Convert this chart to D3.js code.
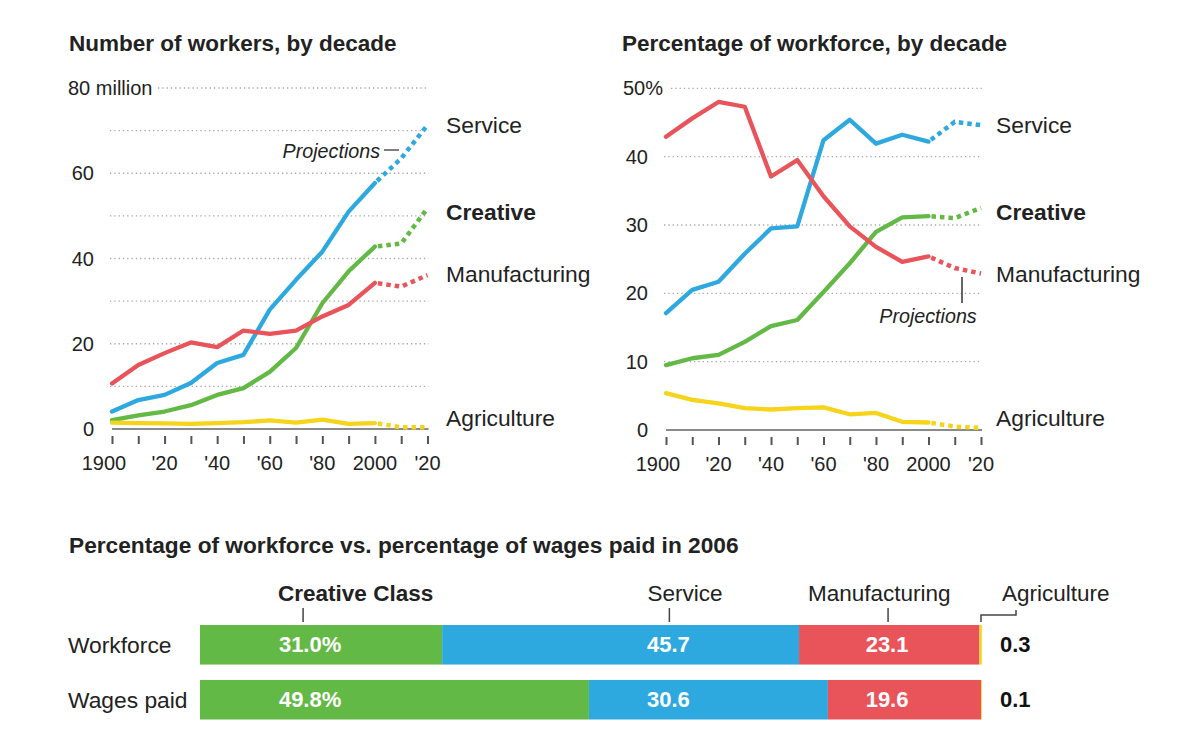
<!DOCTYPE html>
<html>
<head>
<meta charset="utf-8">
<script src="https://cdn.jsdelivr.net/npm/d3@7"></script>
<style>
  html, body { margin: 0; padding: 0; background: #fff; }
  svg { display: block; font-family: "Liberation Sans", Arial, Helvetica, sans-serif; }
</style>
</head>
<body>
<svg id="chart" width="1197" height="750"></svg>
<script>
// ---------------- DATA ----------------
const decades = [1900, 1910, 1920, 1930, 1940, 1950, 1960, 1970, 1980, 1990, 2000, 2010, 2020];
const projectionStart = 2000;
const seriesNames = ["Service", "Creative", "Manufacturing", "Agriculture"];

// Number of workers (millions)
const serviceWorkers       = [4.1, 6.8, 8.0, 10.8, 15.5, 17.4, 28.0, 35.0, 41.6, 51.0, 57.7, 63.5, 71.3];
const creativeWorkers      = [2.1, 3.2, 4.1, 5.6, 8.0, 9.6, 13.4, 19.0, 29.5, 37.0, 42.8, 43.5, 51.8];
const manufacturingWorkers = [10.7, 15.0, 17.8, 20.3, 19.2, 23.1, 22.3, 23.1, 26.4, 29.1, 34.3, 33.4, 36.1];
const agricultureWorkers   = [1.5, 1.4, 1.3, 1.2, 1.4, 1.6, 2.0, 1.5, 2.2, 1.2, 1.4, 0.4, 0.4];

// Percentage of workforce
const servicePct       = [17.1, 20.5, 21.7, 25.8, 29.5, 29.8, 42.4, 45.4, 41.9, 43.2, 42.2, 45.1, 44.6];
const creativePct      = [9.5, 10.5, 11.0, 12.9, 15.2, 16.1, 20.2, 24.4, 29.0, 31.1, 31.3, 31.0, 32.5];
const manufacturingPct = [42.9, 45.6, 48.0, 47.3, 37.1, 39.5, 34.2, 29.8, 26.8, 24.6, 25.4, 23.7, 22.9];
const agriculturePct   = [5.4, 4.4, 3.9, 3.2, 3.0, 3.2, 3.3, 2.3, 2.5, 1.2, 1.1, 0.5, 0.3];

const workerTicks = [0, 20, 40, 60, 80];
const pctTicks = [0, 10, 20, 30, 40, 50];
const xTickLabels = ["1900", "'20", "'40", "'60", "'80", "2000", "'20"];
const xTickLabelYears = [1900, 1920, 1940, 1960, 1980, 2000, 2020];

// Bars: 2006
const barCategories = ["Creative Class", "Service", "Manufacturing", "Agriculture"];
const barRows = ["Workforce", "Wages paid"];
const workforceShares = [31.0, 45.7, 23.1, 0.3];
const wagesShares = [49.8, 30.6, 19.6, 0.1];

// ---------------- STYLE ----------------
const colors = { "Service": "#2ea9df", "Creative": "#63b946", "Manufacturing": "#e9545b", "Agriculture": "#f5d41b" };
const barColors = ["#63b946", "#2ea9df", "#e9545b", "#f5d41b"];
const textColor = "#222";

const svg = d3.select("#chart");

function lineChart(opts) {
  const g = svg.append("g");
  const x = d3.scaleLinear().domain([1900, 2020]).range(opts.xRange);
  const y = d3.scaleLinear().domain(opts.yDomain).range(opts.yRange);

  // title
  g.append("text").attr("x", opts.titleX).attr("y", 51)
    .attr("font-size", 22.5).attr("font-weight", "bold").attr("fill", textColor)
    .text(opts.title);

  // gridlines
  const gridVals = d3.range(opts.gridStep, opts.yDomain[1] + 0.001, opts.gridStep);
  g.selectAll(".grid").data(gridVals).join("line")
    .attr("x1", d => d === opts.yDomain[1] ? opts.topGridStart : opts.xRange[0] - 2)
    .attr("x2", opts.xRange[1] + 1)
    .attr("y1", d => y(d)).attr("y2", d => y(d))
    .attr("stroke", "#a8a8a8").attr("stroke-width", 1.3).attr("stroke-dasharray", "1.3,3");

  // y labels
  g.selectAll(".yl").data(opts.yTicks).join("text")
    .attr("x", opts.yLabelX).attr("y", d => y(d)).attr("dy", "0.35em")
    .attr("text-anchor", "end").attr("font-size", 20).attr("fill", textColor)
    .text(d => d);
  g.append("text").attr("x", opts.yLabelX + (opts.suffixGap || 0)).attr("y", y(opts.yDomain[1])).attr("dy", "0.35em")
    .attr("font-size", 20).attr("fill", textColor).text(opts.suffix);

  // baseline
  g.append("line").attr("x1", opts.xRange[0]).attr("x2", opts.xRange[1] + 1)
    .attr("y1", y(0)).attr("y2", y(0)).attr("stroke", "#8a8a8a").attr("stroke-width", 2);

  // x ticks
  const xAxis = d3.axisBottom(x).tickValues(decades).tickSize(8).tickFormat("");
  const ax = g.append("g").attr("transform", `translate(0,${y(0) + 7})`).call(xAxis);
  ax.select(".domain").remove();
  ax.selectAll(".tick line").attr("stroke", "#555").attr("stroke-width", 2);

  g.selectAll(".xl").data(xTickLabelYears).join("text")
    .attr("x", (d, i) => x(d) + (i === 0 ? -8 : 0)).attr("y", y(0) + 41)
    .attr("text-anchor", "middle").attr("font-size", 20).attr("fill", textColor)
    .text((d, i) => xTickLabels[i]);

  // lines
  const line = d3.line().x(d => x(d.year)).y(d => y(d.v));
  opts.series.forEach((vals, si) => {
    const name = seriesNames[si];
    const pts = decades.map((yr, i) => ({ year: yr, v: vals[i] }));
    const solid = pts.filter(p => p.year <= projectionStart);
    const proj = pts.filter(p => p.year >= projectionStart);
    g.append("path").datum(solid).attr("d", line).attr("fill", "none")
      .attr("stroke", colors[name]).attr("stroke-width", 4.3)
      .attr("stroke-linejoin", "round").attr("stroke-linecap", "round");
    g.append("path").datum(proj).attr("d", line).attr("fill", "none")
      .attr("stroke", colors[name]).attr("stroke-width", 4.5)
      .attr("stroke-dasharray", "4.5,4").attr("stroke-dashoffset", -3);
  });

  // series labels
  seriesNames.forEach((name, i) => {
    g.append("text").attr("x", opts.labelX).attr("y", opts.labelY[i]).attr("dy", "0.35em")
      .attr("font-size", 22.8).attr("fill", textColor)
      .attr("font-weight", name === "Creative" ? "bold" : "normal")
      .text(name);
  });
  return { g, x, y };
}

const left = lineChart({
  title: "Number of workers, by decade", titleX: 69,
  xRange: [112, 427.5], yDomain: [0, 80], yRange: [429, 88],
  gridStep: 10, topGridStart: 158, yTicks: workerTicks.filter(d => d !== 80),
  yLabelX: 94, suffix: "80 million", suffixGap: -26,
  series: [serviceWorkers, creativeWorkers, manufacturingWorkers, agricultureWorkers],
  labelX: 446, labelY: [125, 212, 274, 418]
});

const right = lineChart({
  title: "Percentage of workforce, by decade", titleX: 622,
  xRange: [666, 981], yDomain: [0, 50], yRange: [430, 88.3],
  gridStep: 10, topGridStart: 671, yTicks: pctTicks.filter(d => d !== 50),
  yLabelX: 648, suffix: "50%", suffixGap: -25,
  series: [servicePct, creativePct, manufacturingPct, agriculturePct],
  labelX: 996, labelY: [125, 212, 274, 418]
});

// Projections annotations
left.g.append("text").attr("x", 380).attr("y", 151).attr("dy", "0.35em")
  .attr("text-anchor", "end").attr("font-size", 19.7).attr("font-style", "italic").attr("fill", textColor)
  .text("Projections");
left.g.append("line").attr("x1", 384).attr("x2", 399).attr("y1", 150).attr("y2", 150)
  .attr("stroke", "#555").attr("stroke-width", 1.5);

right.g.append("line").attr("x1", 962).attr("x2", 962).attr("y1", 277).attr("y2", 303)
  .attr("stroke", "#333").attr("stroke-width", 1.5);
right.g.append("text").attr("x", 928).attr("y", 316).attr("dy", "0.35em")
  .attr("text-anchor", "middle").attr("font-size", 19.7).attr("font-style", "italic").attr("fill", textColor)
  .text("Projections");

// ---------------- BARS ----------------
const bg = svg.append("g");
bg.append("text").attr("x", 69).attr("y", 553)
  .attr("font-size", 22.7).attr("font-weight", "bold").attr("fill", textColor)
  .text("Percentage of workforce vs. percentage of wages paid in 2006");

const bx = d3.scaleLinear().domain([0, 100]).range([200, 981]);
const by = d3.scaleBand().domain(barRows).range([625, 719.5]).paddingInner(0.28);

const rowsData = [workforceShares, wagesShares];
// value-label anchor positions (in percent units of bar scale) and header text offsets
const labelAtPct = [13.2, 60.1, 88.1];
const valueNudge = [7, -1, -1];
const headerOffsets = [-25, -22, -80];

rowsData.forEach((shares, ri) => {
  const row = barRows[ri];
  let cum = 0;
  const segs = shares.map((v, i) => { const s = { start: cum, v, i }; cum += v; return s; });
  bg.selectAll(null).data(segs).join("rect")
    .attr("x", d => bx(d.start)).attr("width", d => bx(d.start + d.v) - bx(d.start))
    .attr("y", by(row)).attr("height", by.bandwidth())
    .attr("fill", d => barColors[d.i]);
  bg.append("text").attr("x", 68).attr("y", by(row) + by.bandwidth() / 2).attr("dy", "0.35em")
    .attr("font-size", 22.8).attr("fill", textColor).text(row);
  segs.slice(0, 3).forEach((d, i) => {
    bg.append("text").attr("x", bx(labelAtPct[i]) + valueNudge[i]).attr("y", by(row) + by.bandwidth() / 2).attr("dy", "0.35em")
      .attr("text-anchor", "middle").attr("font-size", 22).attr("font-weight", "bold").attr("fill", "#fff")
      .text(i === 0 ? d.v.toFixed(1) + "%" : d.v.toFixed(1));
  });
  bg.append("text").attr("x", 1000).attr("y", by(row) + by.bandwidth() / 2).attr("dy", "0.35em")
    .attr("font-size", 22).attr("font-weight", "bold").attr("fill", "#111")
    .text(shares[3].toFixed(1));
});

// Headers
barCategories.slice(0, 3).forEach((name, i) => {
  const tx = bx(labelAtPct[i]);
  bg.append("line").attr("x1", tx).attr("x2", tx).attr("y1", 608).attr("y2", 622)
    .attr("stroke", "#444").attr("stroke-width", 1.5);
  bg.append("text").attr("x", tx + headerOffsets[i]).attr("y", 593).attr("dy", "0.35em")
    .attr("font-size", 22.5).attr("font-weight", i === 0 ? "bold" : "normal").attr("fill", textColor)
    .text(name);
});
// Agriculture bracket
const agX = bx(100);
bg.append("path")
  .attr("d", `M${agX},622 V615 H${agX + 35} V610`)
  .attr("fill", "none").attr("stroke", "#444").attr("stroke-width", 1.5);
bg.append("text").attr("x", 1002).attr("y", 593).attr("dy", "0.35em")
  .attr("font-size", 22.5).attr("fill", textColor).text(barCategories[3]);
</script>
</body>
</html>
